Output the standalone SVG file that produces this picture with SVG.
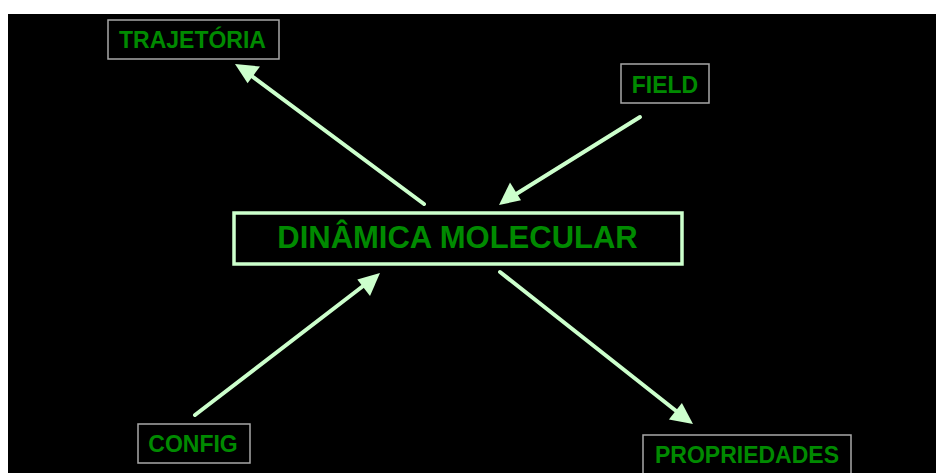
<svg xmlns="http://www.w3.org/2000/svg" width="936" height="473" viewBox="0 0 936 473">
<style>
.lbl{font-family:"Liberation Sans",Arial,sans-serif;font-weight:bold;fill:#008a00;text-anchor:middle}
.small{font-size:23px}
.big{font-size:31px}
.box{fill:none;stroke:#a8a8a8;stroke-width:1.5}
.mainbox{fill:none;stroke:#ccffcc;stroke-width:3.5}
.conn{stroke:#ccffcc;stroke-width:4;stroke-linecap:round;fill:none}
.head{fill:#ccffcc}
</style>
<rect x="0" y="0" width="936" height="473" fill="#ffffff"/>
<rect x="8" y="14" width="928" height="459" fill="#000000"/>
<g id="connectors">
<line class="conn" x1="424" y1="204" x2="249" y2="74"/>
<polygon class="head" points="235,64 260,66.5 247.6,83.2"/>
<line class="conn" x1="640" y1="117" x2="513" y2="196"/>
<polygon class="head" points="499,205 510,182.6 521,200.3"/>
<line class="conn" x1="195" y1="415" x2="367" y2="283"/>
<polygon class="head" points="380,273 370,296 357.3,279.4"/>
<line class="conn" x1="500" y1="272" x2="680" y2="414"/>
<polygon class="head" points="693,424 668.9,419.5 681.9,403"/>
</g>
<g id="trajetoria">
<rect class="box" x="108" y="20" width="171" height="39"/>
<text class="lbl small" x="192.5" y="48">TRAJETÓRIA</text>
</g>
<g id="field">
<rect class="box" x="621" y="64" width="88" height="39"/>
<text class="lbl small" x="665" y="93">FIELD</text>
</g>
<g id="dinamica">
<rect class="mainbox" x="234" y="213" width="448" height="51"/>
<text class="lbl big" x="457.5" y="248">DINÂMICA MOLECULAR</text>
</g>
<g id="config">
<rect class="box" x="138" y="424" width="112" height="39"/>
<text class="lbl small" x="193" y="452">CONFIG</text>
</g>
<g id="propriedades">
<rect class="box" x="643" y="435" width="208" height="45"/>
<text class="lbl small" x="747" y="463">PROPRIEDADES</text>
</g>
</svg>
